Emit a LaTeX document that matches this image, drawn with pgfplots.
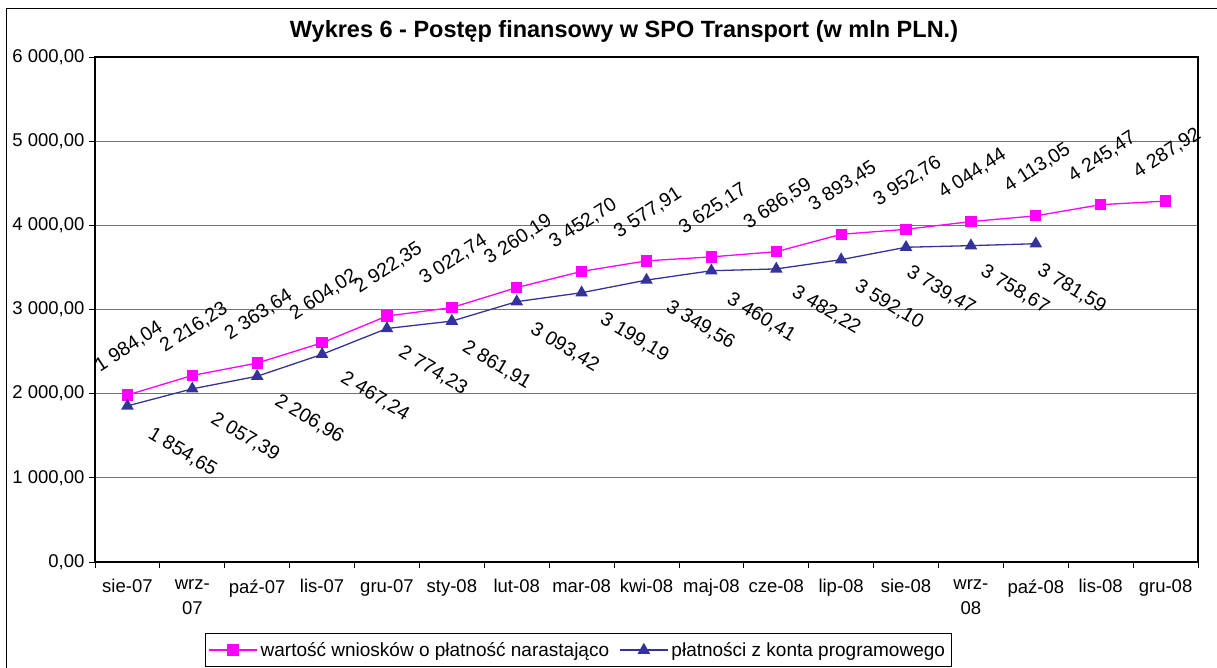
\documentclass[border=0pt]{standalone}
\usepackage{fontspec}
\setmainfont{Liberation Sans}
\usepackage{pgfplots}
\pgfplotsset{compat=1.18}
\definecolor{mag}{HTML}{FF00FF}
\definecolor{navy}{HTML}{333399}
\newcommand\fs{\fontsize{18.5pt}{25pt}\selectfont}

\begin{document}
\begin{tikzpicture}
\begin{axis}[
    at={(0,0)}, anchor=south west,
    scale only axis, width=1103pt, height=505pt,
    xmin=-0.5, xmax=16.5, ymin=0, ymax=6000,
    clip=false,
    /pgf/number format/assume math mode=true,
    axis line style={line width=1.6pt, black},
    tick align=outside, xtick pos=bottom, ytick pos=left,
    major tick length=6pt,
    tick style={black, line width=0.8pt},
    xtick={-0.5,0.5,...,16.5}, xticklabels={},
    extra x ticks={0,...,16},
    extra x tick labels={sie-07,wrz-\\07,paź-07,lis-07,gru-07,sty-08,lut-08,mar-08,kwi-08,maj-08,cze-08,lip-08,sie-08,wrz-\\08,paź-08,lis-08,gru-08},
    extra x tick style={major tick length=0pt, xticklabel style={align=center, yshift=-14pt}},
    ytick={0,1000,...,6000},
    yticklabels={{0,00},{1 000,00},{2 000,00},{3 000,00},{4 000,00},{5 000,00},{6 000,00}},
    yticklabel style={xshift=-1pt},
    tick label style={font=\fs},
    ymajorgrids=true,
    grid style={black!55, line width=0.8pt},
    legend columns=2,
    legend style={at={(axis description cs:0.0997,-0.1406)}, anchor=north west,
        draw=black, line width=0.8pt, font=\fontsize{19pt}{25pt}\selectfont,
        inner xsep=3pt, inner ysep=6pt,
        nodes={inner sep=3pt},
        /tikz/every even column/.append style={column sep=7pt}},
    legend cell align=left,
    legend image code/.code={\draw[mark repeat=2,mark phase=2,#1] plot coordinates {(0pt,0pt) (24pt,0pt) (48pt,0pt)};},
    nodes near coords={\pgfmathprintnumber[fixed,fixed zerofill,precision=2,use comma,1000 sep={\ }]{\pgfplotspointmeta}},
    every node near coord/.append style={font=\fontsize{19.5pt}{24pt}\selectfont, anchor=center, text=black},
]
\addplot[mag, line width=1.3pt, mark=square*, mark size=5pt, mark options={solid, fill=mag, draw=mag},
    every node near coord/.append style={xshift=1.5pt, yshift=48pt, rotate=33}]
    table[x=x, y=y] {
x y
0 1984.04
1 2216.23
2 2363.64
3 2604.02
4 2922.35
5 3022.74
6 3260.19
7 3452.70
8 3577.91
9 3625.17
10 3686.59
11 3893.45
12 3952.76
13 4044.44
14 4113.05
15 4245.47
16 4287.92
};
\addlegendentry{wartość wniosków o płatność narastająco}
\addplot[navy, line width=1.3pt, mark=triangle*, mark size=6pt, mark options={solid, fill=navy, draw=navy},
    visualization depends on={\thisrow{dx} \as \dx},
    visualization depends on={\thisrow{dy} \as \dy},
    every node near coord/.append style={xshift=\dx pt, yshift=-\dy pt, rotate=-31}]
    table[x=x, y=y] {
x y dx dy
0 1854.65 55 46
1 2057.39 53 48
2 2206.96 52 43
3 2467.24 53 42
4 2774.23 46 42
5 2861.91 45 44
6 3093.42 48 46
7 3199.19 53 45
8 3349.56 54 45
9 3460.41 50 47
10 3482.22 50 41
11 3592.10 48 45
12 3739.47 35 43
13 3758.67 44 44
14 3781.59 36 45
};
\addlegendentry{płatności z konta programowego}
\end{axis}
\node[font=\bfseries\fontsize{23.5pt}{26pt}\selectfont, anchor=base] at (529pt,524pt)
    {Wykres 6 - Postęp finansowy w SPO Transport (w mln PLN.)};
\draw[black, line width=1pt] (-88pt,-120pt) -- (-88pt,553pt) -- (1140pt,553pt);
\pgfresetboundingbox
\path[use as bounding box] (-95pt,-106pt) rectangle (1122pt,562pt);
\end{tikzpicture}
\end{document}
